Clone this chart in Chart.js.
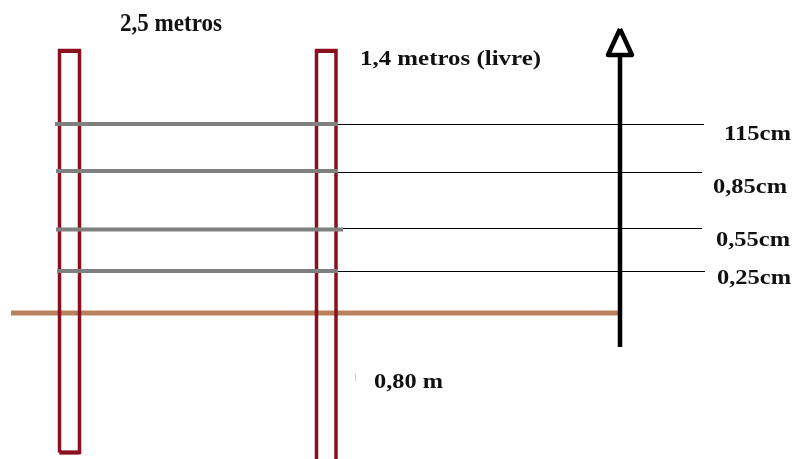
<!DOCTYPE html>
<html>
<head>
<meta charset="utf-8">
<title>Cerca</title>
<script src="https://cdn.jsdelivr.net/npm/chart.js@4"></script>
<style>
  html, body { margin: 0; padding: 0; background: #fff; }
  canvas { display: block; }
</style>
</head>
<body>
<canvas id="fence" width="795" height="459"></canvas>
<script>
// everything is in picture units, x 0-795, y 0-459 downwards
const leftPostX = [59.5, 79.5];
const leftPostY = [50.5, 452.5];
const rightPostX = [316.5, 336];
const rightPostY = [50.5, 462];

const railY = [124, 171, 229.5, 271];
const railStartX = [55, 56, 56, 57];
const railEndX = [338, 338, 343, 338];

const wireY = [124.5, 172.5, 228.5, 271.5];
const wireStartX = [338, 338, 343, 338];
const wireEndX = [704, 702, 702, 705];

const groundY = 313;
const groundX = [11, 618];

const arrowX = 620;
const arrowY = [347, 56];
const arrowHeadX = [620, 632, 608, 620];
const arrowHeadY = [29, 55, 55, 29];

const labelText = ["2,5 metros", "1,4 metros (livre)", "115cm", "0,85cm", "0,55cm", "0,25cm", "0,80 m"];
const labelX = [120, 360, 724, 713, 716, 717, 374];
const labelY = [25, 59, 134, 187, 240, 278, 382];
const labelWidth = [102, 181, 67, 74, 74, 74, 69];
const labelSize = [25, 22, 22, 22, 22, 22, 22];

function segment(xs, ys) {
  return xs.map((x, i) => ({ x: x, y: ys[i] }));
}

function post(xs, ys) {
  return [
    { x: xs[0], y: ys[1] }, { x: xs[0], y: ys[0] },
    { x: xs[1], y: ys[0] }, { x: xs[1], y: ys[1] }, { x: xs[0], y: ys[1] }
  ];
}

function line(points, color, width, order) {
  return {
    data: points,
    borderColor: color,
    borderWidth: width,
    backgroundColor: "transparent",
    pointRadius: 0,
    showLine: true,
    tension: 0,
    order: order
  };
}

const postColor = "#8a1020";
const datasets = [];
// lower order is painted last
datasets.push(line(segment([arrowX, arrowX], arrowY), "#000000", 4.5, 0));
const head = line(segment(arrowHeadX, arrowHeadY), "#000000", 4.5, 0);
head.borderJoinStyle = "round";
datasets.push(head);
railY.forEach((y, i) => {
  datasets.push(line(segment([wireStartX[i], wireEndX[i]], [wireY[i], wireY[i]]), "#000000", 1.2, 1));
  datasets.push(line(segment([railStartX[i], railEndX[i]], [y, y]), "#808080", 4, 2));
});
datasets.push(line(post(leftPostX, leftPostY), postColor, 3.5, 3));
datasets.push(line(post(rightPostX, rightPostY), postColor, 3.5, 3));
datasets.push(line(segment(leftPostX, [leftPostY[0] + 1, leftPostY[0] + 1]), postColor, 3, 3));
datasets.push(line(segment(rightPostX, [rightPostY[0] + 1, rightPostY[0] + 1]), postColor, 3, 3));
datasets.push(line(segment(leftPostX, [leftPostY[1], leftPostY[1]]), postColor, 4, 3));
datasets.push(line(segment(groundX, [groundY, groundY]), "#b9815e", 5, 4));

const labelsPlugin = {
  id: "labels",
  afterDatasetsDraw(chart) {
    const ctx = chart.ctx;
    const sx = chart.scales.x;
    const sy = chart.scales.y;
    ctx.save();
    ctx.fillStyle = "#111111";
    ctx.textBaseline = "middle";
    ctx.textAlign = "left";
    labelText.forEach((t, i) => {
      ctx.save();
      ctx.font = "bold " + labelSize[i] + "px 'Liberation Serif'";
      // the scan has stretched lettering, so fit each label to its measured width
      const stretch = labelWidth[i] / ctx.measureText(t).width;
      ctx.translate(sx.getPixelForValue(labelX[i]), sy.getPixelForValue(labelY[i]));
      ctx.scale(stretch, 1);
      ctx.fillText(t, 0, 0);
      ctx.restore();
    });
    // small speck left of the 0,80 m label
    ctx.fillStyle = "#e3c9b0";
    ctx.fillRect(sx.getPixelForValue(355), sy.getPixelForValue(374), 1, 7);
    ctx.restore();
  }
};

new Chart(document.getElementById("fence").getContext("2d"), {
  type: "scatter",
  data: { datasets: datasets },
  options: {
    responsive: false,
    animation: false,
    layout: { padding: 0 },
    plugins: { legend: { display: false }, tooltip: { enabled: false }, title: { display: false } },
    scales: {
      x: { type: "linear", min: 0, max: 795, display: false },
      y: { type: "linear", min: 0, max: 459, reverse: true, display: false }
    }
  },
  plugins: [labelsPlugin]
});
</script>
</body>
</html>
